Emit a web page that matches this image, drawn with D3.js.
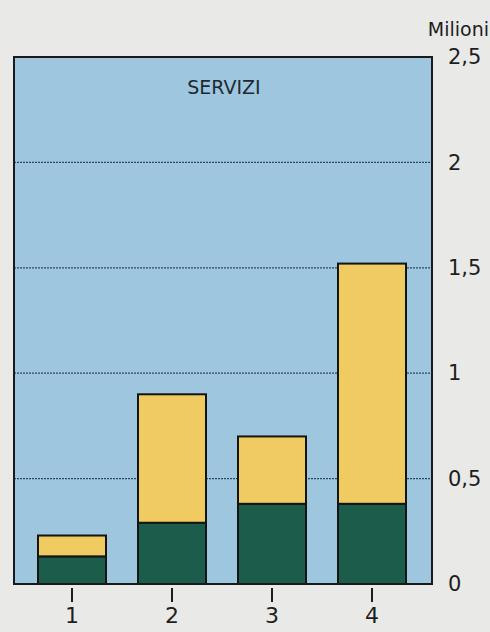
<!DOCTYPE html>
<html><head><meta charset="utf-8">
<script src="https://cdn.jsdelivr.net/npm/d3@7"></script>
<style>body{margin:0;background:#e9e9e7;}svg{display:block;}</style>
</head><body>
<svg id="c" width="490" height="632"></svg>
<script>
const categories = ["1","2","3","4"];
const lowerValues = [0.13, 0.29, 0.38, 0.38];
const totalValues = [0.23, 0.90, 0.70, 1.52];
const tickValues = [0, 0.5, 1, 1.5, 2, 2.5];
const tickLabels = ["0","0,5","1","1,5","2","2,5"];
const title = "SERVIZI";
const unitLabel = "Milioni";

const FONT = "DejaVu Sans, Verdana, sans-serif";
const svg = d3.select("#c");
const frame = {x0: 14, x1: 432, y0: 57, y1: 584};
const y = d3.scaleLinear().domain([0, 2.5]).range([frame.y1, frame.y0]);
const x = d3.scaleBand().domain(categories).range([22, 422]).paddingInner(0.32).paddingOuter(0.16);

svg.append("rect").attr("x", frame.x0).attr("y", frame.y0)
  .attr("width", frame.x1 - frame.x0).attr("height", frame.y1 - frame.y0)
  .attr("fill", "#9ec6df");

svg.append("g").selectAll("line").data(tickValues.filter(v => v > 0 && v < 2.5)).join("line")
  .attr("x1", frame.x0).attr("x2", frame.x1)
  .attr("y1", d => y(d)).attr("y2", d => y(d))
  .attr("stroke", "#2c4a5e").attr("stroke-width", 1.3).attr("stroke-dasharray", "2,1");

const bars = svg.append("g");
categories.forEach((c, i) => {
  bars.append("rect").attr("x", x(c)).attr("width", x.bandwidth())
    .attr("y", y(totalValues[i])).attr("height", y(lowerValues[i]) - y(totalValues[i]))
    .attr("fill", "#f0cb62").attr("stroke", "#141414").attr("stroke-width", 2);
  bars.append("rect").attr("x", x(c)).attr("width", x.bandwidth())
    .attr("y", y(lowerValues[i])).attr("height", y(0) - y(lowerValues[i]))
    .attr("fill", "#1b5d4a").attr("stroke", "#141414").attr("stroke-width", 2);
});

svg.append("rect").attr("x", frame.x0).attr("y", frame.y0)
  .attr("width", frame.x1 - frame.x0).attr("height", frame.y1 - frame.y0)
  .attr("fill", "none").attr("stroke", "#1a1a1a").attr("stroke-width", 2);

svg.append("text").attr("x", 224).attr("y", 94).attr("text-anchor", "middle")
  .attr("font-family", FONT).attr("font-size", 19)
  .attr("fill", "#1e2a33").text(title);

const yAxis = d3.axisRight(y).tickValues(tickValues).tickFormat((d, i) => tickLabels[i]).tickSize(0).tickPadding(0);
const ya = svg.append("g").attr("transform", `translate(448,0)`).call(yAxis);
ya.select(".domain").remove();
ya.selectAll("text").attr("font-family", FONT)
  .attr("font-size", 21).attr("fill", "#1e1e1e").attr("text-anchor", "start");

svg.append("text").attr("x", 489).attr("y", 36).attr("text-anchor", "end")
  .attr("font-family", FONT).attr("font-size", 19).attr("font-weight", 500)
  .attr("fill", "#1e1e1e").text(unitLabel);

const xAxis = d3.axisBottom(x).tickSize(14).tickPadding(5);
const xa = svg.append("g").attr("transform", `translate(0,${frame.y1 + 4})`).call(xAxis);
xa.select(".domain").remove();
xa.selectAll("line").attr("stroke", "#1e1e1e").attr("stroke-width", 2);
xa.selectAll("text").attr("font-family", FONT)
  .attr("font-size", 22).attr("fill", "#1e1e1e");
</script>
</body></html>
